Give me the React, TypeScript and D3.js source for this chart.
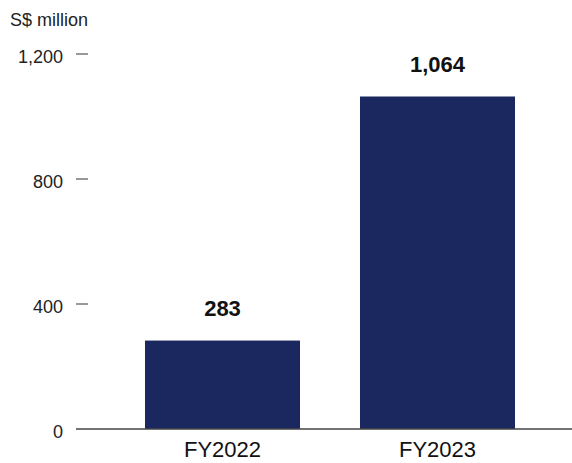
import React from "react";
import * as d3 from "d3";

const categories = ["FY2022", "FY2023"];
const values = [283, 1064];
const valueLabels = ["283", "1,064"];
const yTicks = [0, 400, 800, 1200];
const unitLabel = "S$ million";

const W = 572;
const H = 463;
const FONT = "'Liberation Sans', Arial, Helvetica, sans-serif";

export default function App() {
  const y = d3.scaleLinear().domain([0, 1200]).range([429, 54]);
  const x = d3
    .scaleBand<string>()
    .domain(categories)
    .range([115, 545])
    .paddingInner(0.279)
    .paddingOuter(0.1395);
  const fmt = d3.format(",");
  return (
    <svg
      width={W}
      height={H}
      style={{ position: "absolute", left: 0, top: 0, background: "#fff" }}
    >
      <text x={10} y={26} fontFamily={FONT} fontSize={18} fill="#222">
        {unitLabel}
      </text>
      {yTicks.map((t) => (
        <g key={t}>
          <text
            x={63}
            y={y(t) + 2.5}
            textAnchor="end"
            dominantBaseline="central"
            fontFamily={FONT}
            fontSize={18}
            fill="#222"
          >
            {fmt(t)}
          </text>
          {t > 0 && (
            <line x1={76} x2={88} y1={y(t)} y2={y(t)} stroke="#333" strokeWidth={1} />
          )}
        </g>
      ))}
      {categories.map((c, i) => (
        <g key={c}>
          <rect
            x={x(c)}
            y={y(values[i])}
            width={x.bandwidth()}
            height={y(0) - y(values[i])}
            fill="#1b285f"
          />
          <text
            x={(x(c) as number) + x.bandwidth() / 2}
            y={y(values[i]) - 25}
            textAnchor="middle"
            fontFamily={FONT}
            fontWeight="bold"
            fontSize={22}
            fill="#111"
          >
            {valueLabels[i]}
          </text>
          <text
            x={(x(c) as number) + x.bandwidth() / 2}
            y={457}
            textAnchor="middle"
            fontFamily={FONT}
            fontSize={22}
            fill="#111"
          >
            {c}
          </text>
        </g>
      ))}
      <line x1={76} x2={W} y1={y(0)} y2={y(0)} stroke="#444" strokeWidth={1.3} />
    </svg>
  );
}
